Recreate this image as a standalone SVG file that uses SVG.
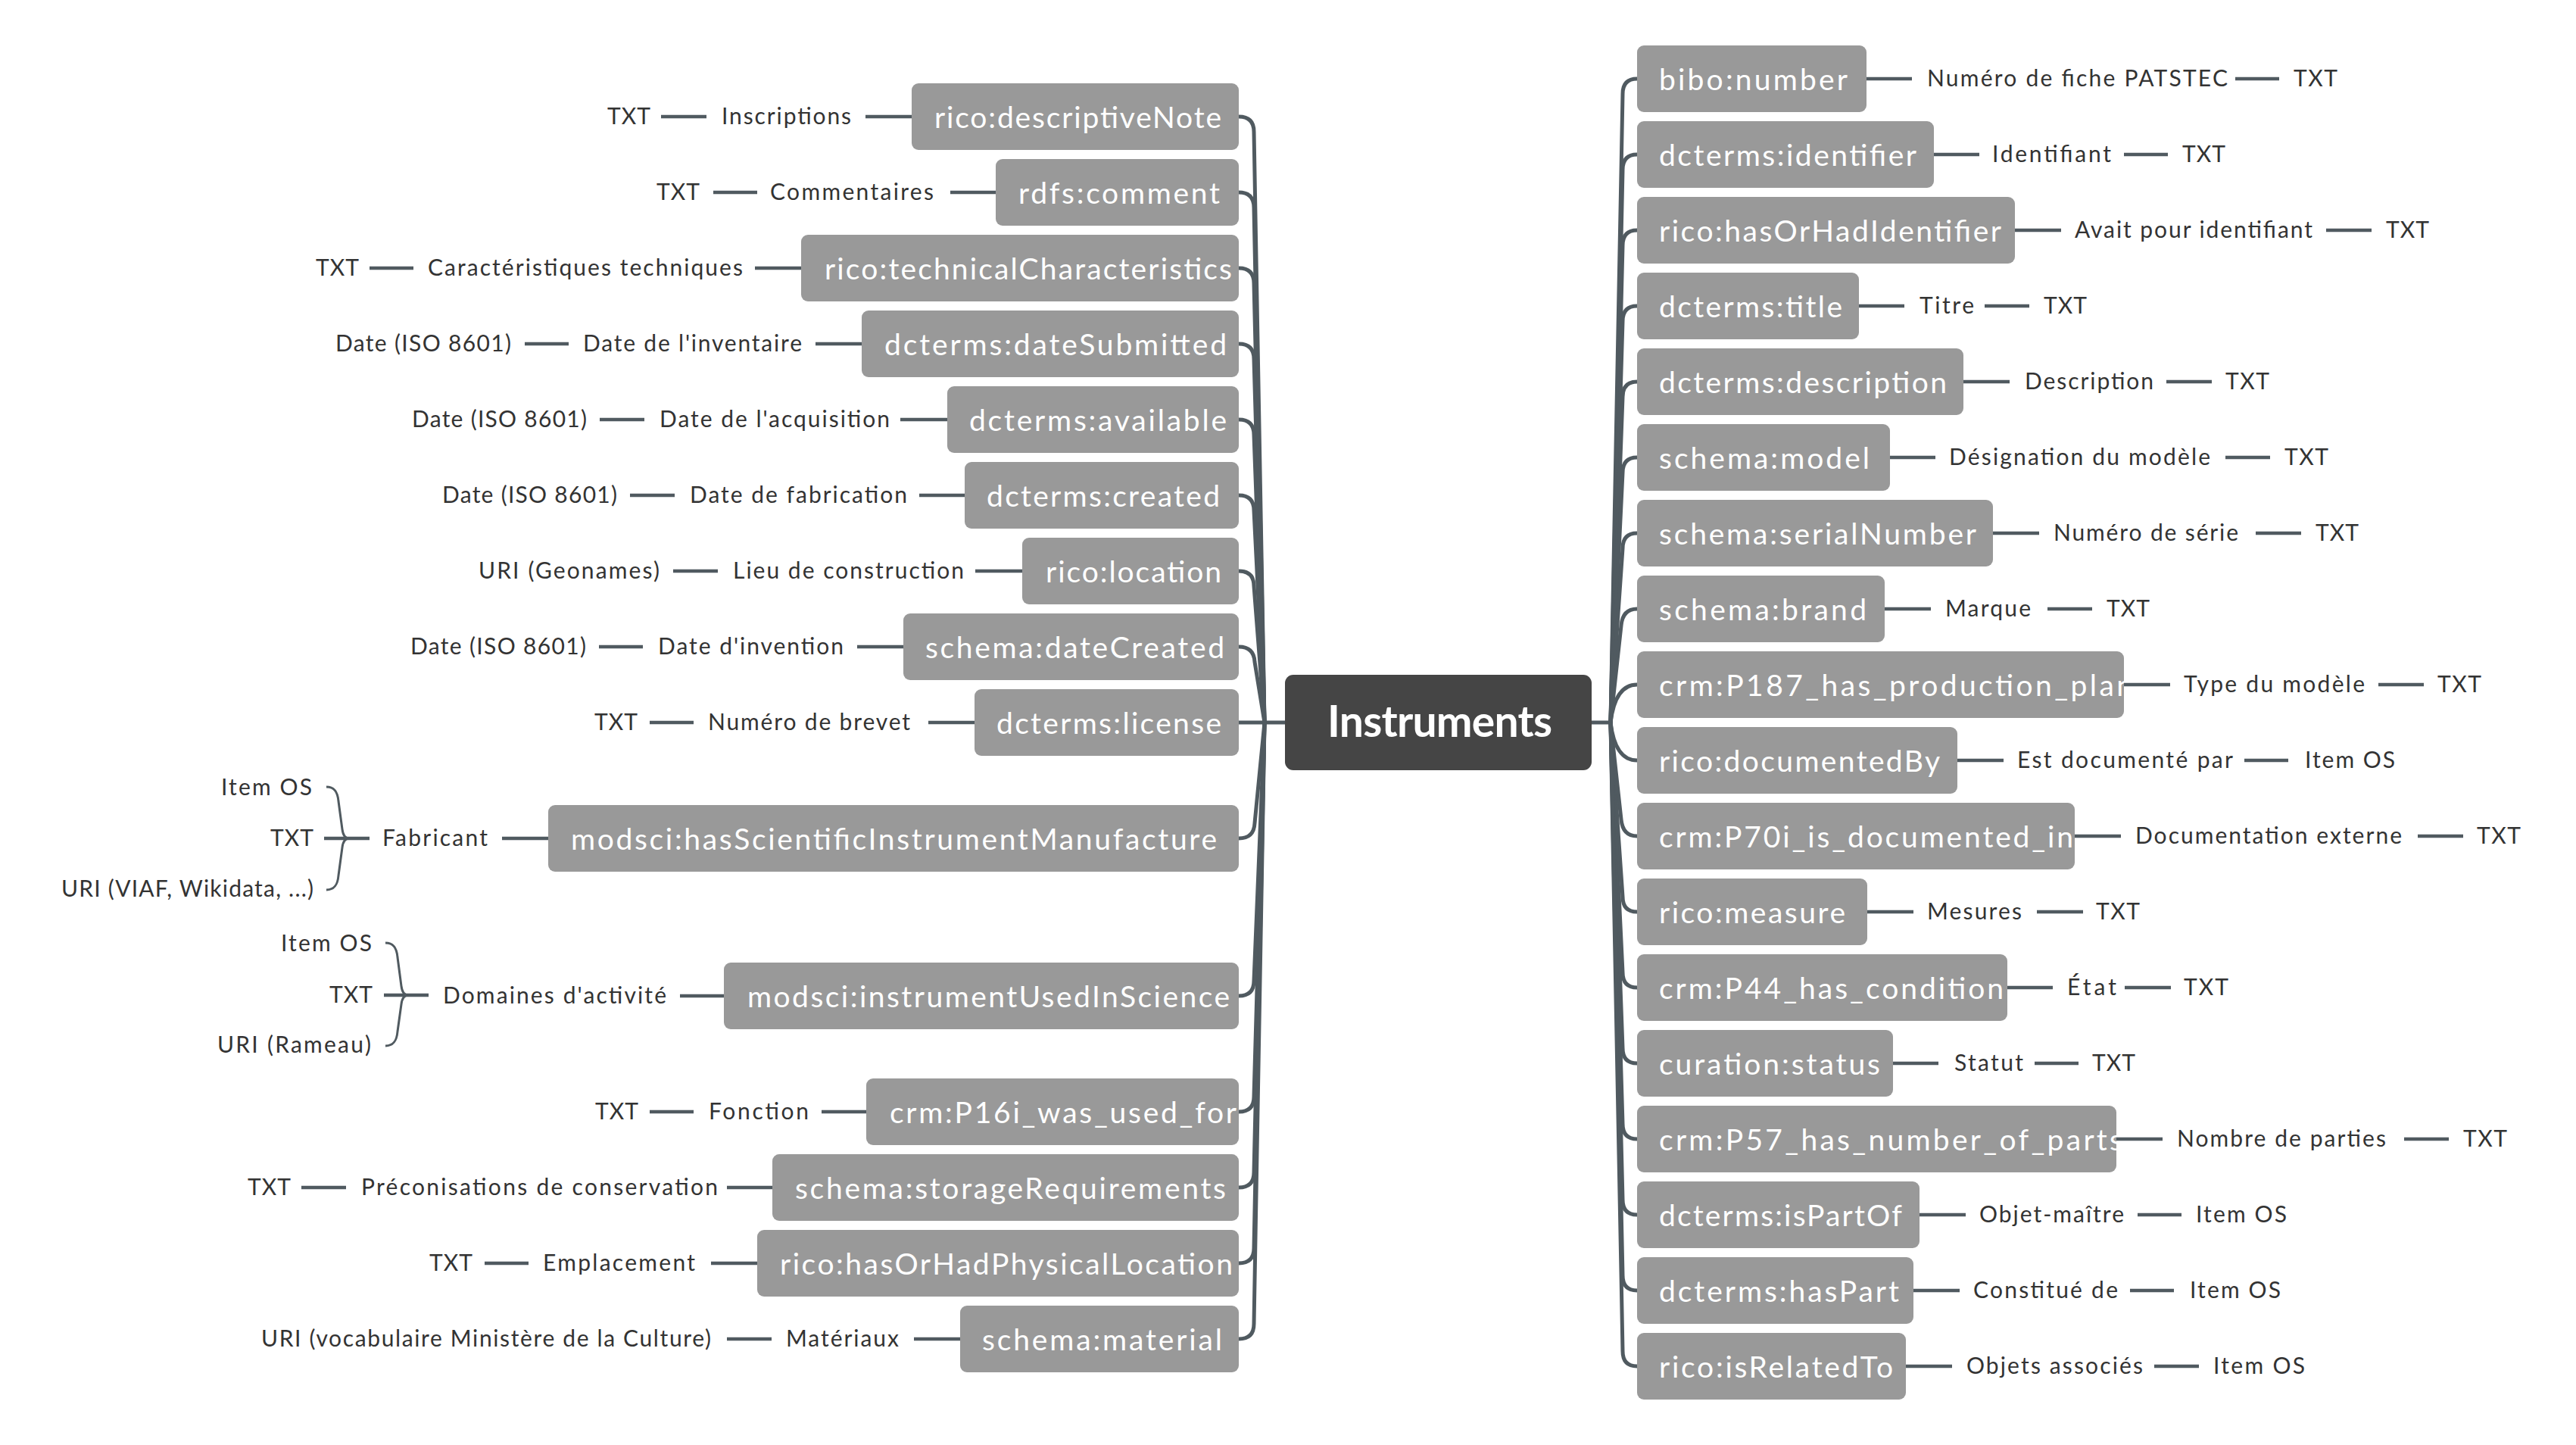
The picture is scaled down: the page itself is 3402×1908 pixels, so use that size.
<svg xmlns="http://www.w3.org/2000/svg" width="3402" height="1908" viewBox="0 0 3402 1908">
<style>
.n rect{fill:#999999}
.n text{fill:#ffffff;font-family:Lato,"Liberation Sans",sans-serif;font-size:39px}
.lb{fill:#333333;font-family:Lato,"Liberation Sans",sans-serif;font-size:30px}
#connectors path,#connectors line{fill:none;stroke:#505a60;stroke-linecap:butt}
.br{stroke-width:5}
.ln{stroke-width:4.5}
.bc{stroke-width:3}
</style>
<defs>
<clipPath id="c187"><rect x="2162" y="860" width="643" height="88" rx="9"/></clipPath>
<clipPath id="c70"><rect x="2162" y="1060" width="578" height="88" rx="9"/></clipPath>
<clipPath id="c57"><rect x="2162" y="1460" width="633" height="88" rx="9"/></clipPath>
<clipPath id="c16"><rect x="1144" y="1424" width="492" height="88" rx="9"/></clipPath>
</defs>
<rect width="3402" height="1908" fill="#ffffff"/>

<g id="connectors">
<line class="br" x1="1668" y1="954" x2="1699" y2="954"/>
<line class="br" x1="2100" y1="954" x2="2129" y2="954"/>
<!-- left branches -->
<path class="br" d="M1670 954 L1656 174 Q1656 154 1636 154"/>
<path class="br" d="M1670 954 L1656 274 Q1656 254 1636 254"/>
<path class="br" d="M1670 954 L1656 374 Q1656 354 1636 354"/>
<path class="br" d="M1670 954 L1656 474 Q1656 454 1636 454"/>
<path class="br" d="M1670 954 L1656 574 Q1656 554 1636 554"/>
<path class="br" d="M1670 954 L1656 674 Q1656 654 1636 654"/>
<path class="br" d="M1670 954 L1656 774 Q1656 754 1636 754"/>
<path class="br" d="M1670 954 L1657 874 Q1656 854 1636 854"/>
<path class="br" d="M1670 954 L1636 954"/>
<path class="br" d="M1670 954 L1657 1087 Q1656 1107 1636 1107"/>
<path class="br" d="M1670 954 L1656 1295 Q1656 1315 1636 1315"/>
<path class="br" d="M1670 954 L1656 1448 Q1656 1468 1636 1468"/>
<path class="br" d="M1670 954 L1656 1548 Q1656 1568 1636 1568"/>
<path class="br" d="M1670 954 L1656 1648 Q1656 1668 1636 1668"/>
<path class="br" d="M1670 954 L1656 1748 Q1656 1768 1636 1768"/>
<!-- right branches -->
<path class="br" d="M2127 954 L2143 124 Q2143 104 2162 104"/>
<path class="br" d="M2127 954 L2143 224 Q2143 204 2162 204"/>
<path class="br" d="M2127 954 L2143 324 Q2143 304 2162 304"/>
<path class="br" d="M2127 954 L2143 424 Q2143 404 2162 404"/>
<path class="br" d="M2127 954 L2143 524 Q2143 504 2162 504"/>
<path class="br" d="M2127 954 L2143 624 Q2143 604 2162 604"/>
<path class="br" d="M2127 954 L2143 724 Q2143 704 2162 704"/>
<path class="br" d="M2127 954 L2141 826 Q2143 804 2162 804"/>
<path class="br" d="M2127 954 Q2133 904 2162 904"/>
<path class="br" d="M2127 954 Q2133 1004 2162 1004"/>
<path class="br" d="M2127 954 L2141 1082 Q2143 1104 2162 1104"/>
<path class="br" d="M2127 954 L2143 1184 Q2143 1204 2162 1204"/>
<path class="br" d="M2127 954 L2143 1284 Q2143 1304 2162 1304"/>
<path class="br" d="M2127 954 L2143 1384 Q2143 1404 2162 1404"/>
<path class="br" d="M2127 954 L2143 1484 Q2143 1504 2162 1504"/>
<path class="br" d="M2127 954 L2143 1584 Q2143 1604 2162 1604"/>
<path class="br" d="M2127 954 L2143 1684 Q2143 1704 2162 1704"/>
<path class="br" d="M2127 954 L2143 1784 Q2143 1804 2162 1804"/>
<!-- left label lines -->
<line class="ln" x1="873" y1="154" x2="933" y2="154"/><line class="ln" x1="1143" y1="154" x2="1204" y2="154"/>
<line class="ln" x1="942" y1="254" x2="1000" y2="254"/><line class="ln" x1="1255" y1="254" x2="1315" y2="254"/>
<line class="ln" x1="488" y1="354" x2="546" y2="354"/><line class="ln" x1="997" y1="354" x2="1058" y2="354"/>
<line class="ln" x1="693" y1="454" x2="751" y2="454"/><line class="ln" x1="1077" y1="454" x2="1138" y2="454"/>
<line class="ln" x1="792" y1="554" x2="851" y2="554"/><line class="ln" x1="1189" y1="554" x2="1251" y2="554"/>
<line class="ln" x1="832" y1="654" x2="891" y2="654"/><line class="ln" x1="1214" y1="654" x2="1274" y2="654"/>
<line class="ln" x1="889" y1="754" x2="948" y2="754"/><line class="ln" x1="1288" y1="754" x2="1350" y2="754"/>
<line class="ln" x1="791" y1="854" x2="849" y2="854"/><line class="ln" x1="1132" y1="854" x2="1193" y2="854"/>
<line class="ln" x1="858" y1="954" x2="916" y2="954"/><line class="ln" x1="1226" y1="954" x2="1287" y2="954"/>
<line class="ln" x1="428" y1="1107" x2="488" y2="1107"/><line class="ln" x1="663" y1="1107" x2="724" y2="1107"/>
<path class="bc" d="M431 1039 C442 1039 446 1046 447 1058 L452 1095 C453 1103 456 1107 461 1107 C456 1107 453 1111 452 1119 L447 1156 C446 1168 442 1175 431 1175"/>
<line class="ln" x1="507" y1="1314" x2="566" y2="1314"/><line class="ln" x1="898" y1="1315" x2="956" y2="1315"/>
<path class="bc" d="M509 1245 C520 1245 524 1252 525 1264 L530 1302 C531 1310 534 1314 539 1314 C534 1314 531 1318 530 1326 L525 1362 C524 1374 520 1381 509 1381"/>
<line class="ln" x1="858" y1="1468" x2="916" y2="1468"/><line class="ln" x1="1085" y1="1468" x2="1144" y2="1468"/>
<line class="ln" x1="398" y1="1568" x2="457" y2="1568"/><line class="ln" x1="960" y1="1568" x2="1020" y2="1568"/>
<line class="ln" x1="640" y1="1668" x2="698" y2="1668"/><line class="ln" x1="939" y1="1668" x2="1000" y2="1668"/>
<line class="ln" x1="960" y1="1768" x2="1019" y2="1768"/><line class="ln" x1="1207" y1="1768" x2="1268" y2="1768"/>
<!-- right label lines -->
<line class="ln" x1="2465" y1="104" x2="2525" y2="104"/><line class="ln" x1="2952" y1="104" x2="3010" y2="104"/>
<line class="ln" x1="2554" y1="204" x2="2614" y2="204"/><line class="ln" x1="2805" y1="204" x2="2863" y2="204"/>
<line class="ln" x1="2661" y1="304" x2="2722" y2="304"/><line class="ln" x1="3072" y1="304" x2="3132" y2="304"/>
<line class="ln" x1="2455" y1="404" x2="2515" y2="404"/><line class="ln" x1="2621" y1="404" x2="2680" y2="404"/>
<line class="ln" x1="2593" y1="504" x2="2654" y2="504"/><line class="ln" x1="2861" y1="504" x2="2921" y2="504"/>
<line class="ln" x1="2496" y1="604" x2="2556" y2="604"/><line class="ln" x1="2939" y1="604" x2="2998" y2="604"/>
<line class="ln" x1="2632" y1="704" x2="2693" y2="704"/><line class="ln" x1="2979" y1="704" x2="3039" y2="704"/>
<line class="ln" x1="2489" y1="804" x2="2550" y2="804"/><line class="ln" x1="2704" y1="804" x2="2763" y2="804"/>
<line class="ln" x1="2805" y1="904" x2="2866" y2="904"/><line class="ln" x1="3141" y1="904" x2="3201" y2="904"/>
<line class="ln" x1="2585" y1="1004" x2="2646" y2="1004"/><line class="ln" x1="2964" y1="1004" x2="3022" y2="1004"/>
<line class="ln" x1="2740" y1="1104" x2="2801" y2="1104"/><line class="ln" x1="3193" y1="1104" x2="3253" y2="1104"/>
<line class="ln" x1="2466" y1="1204" x2="2527" y2="1204"/><line class="ln" x1="2690" y1="1204" x2="2751" y2="1204"/>
<line class="ln" x1="2651" y1="1304" x2="2711" y2="1304"/><line class="ln" x1="2806" y1="1304" x2="2867" y2="1304"/>
<line class="ln" x1="2500" y1="1404" x2="2560" y2="1404"/><line class="ln" x1="2687" y1="1404" x2="2745" y2="1404"/>
<line class="ln" x1="2795" y1="1504" x2="2856" y2="1504"/><line class="ln" x1="3175" y1="1504" x2="3234" y2="1504"/>
<line class="ln" x1="2535" y1="1604" x2="2596" y2="1604"/><line class="ln" x1="2823" y1="1604" x2="2881" y2="1604"/>
<line class="ln" x1="2527" y1="1704" x2="2588" y2="1704"/><line class="ln" x1="2813" y1="1704" x2="2871" y2="1704"/>
<line class="ln" x1="2517" y1="1804" x2="2578" y2="1804"/><line class="ln" x1="2845" y1="1804" x2="2904" y2="1804"/>
</g>

<g id="root">
<rect x="1697" y="891" width="405" height="126" rx="11" fill="#454545"/>
<text x="1753" y="973" textLength="297" fill="#ffffff" font-family="Lato,'Liberation Sans',sans-serif" font-size="57" font-weight="bold">Instruments</text>
</g>

<!-- left nodes -->
<g id="n-descriptiveNote" class="n"><rect x="1204" y="110" width="432" height="88" rx="9"/><text x="1234" y="169" textLength="379">rico:descriptiveNote</text></g>
<g id="n-comment" class="n"><rect x="1315" y="210" width="321" height="88" rx="9"/><text x="1345" y="269" textLength="266">rdfs:comment</text></g>
<g id="n-technicalCharacteristics" class="n"><rect x="1058" y="310" width="578" height="88" rx="9"/><text x="1089" y="369" textLength="538">rico:technicalCharacteristics</text></g>
<g id="n-dateSubmitted" class="n"><rect x="1138" y="410" width="498" height="88" rx="9"/><text x="1168" y="469" textLength="452">dcterms:dateSubmitted</text></g>
<g id="n-available" class="n"><rect x="1251" y="510" width="385" height="88" rx="9"/><text x="1280" y="569" textLength="340">dcterms:available</text></g>
<g id="n-created" class="n"><rect x="1274" y="610" width="362" height="88" rx="9"/><text x="1303" y="669" textLength="308">dcterms:created</text></g>
<g id="n-location" class="n"><rect x="1350" y="710" width="286" height="88" rx="9"/><text x="1381" y="769" textLength="232">rico:location</text></g>
<g id="n-dateCreated" class="n"><rect x="1193" y="810" width="443" height="88" rx="9"/><text x="1222" y="869" textLength="395">schema:dateCreated</text></g>
<g id="n-license" class="n"><rect x="1287" y="910" width="349" height="88" rx="9"/><text x="1316" y="969" textLength="297">dcterms:license</text></g>
<g id="n-manufacture" class="n"><rect x="724" y="1063" width="912" height="88" rx="9"/><text x="754" y="1122" textLength="853">modsci:hasScientificInstrumentManufacture</text></g>
<g id="n-usedInScience" class="n"><rect x="956" y="1271" width="680" height="88" rx="9"/><text x="987" y="1330" textLength="637">modsci:instrumentUsedInScience</text></g>
<g id="n-usedFor" class="n"><rect x="1144" y="1424" width="492" height="88" rx="9"/><text x="1175" y="1483" textLength="458" clip-path="url(#c16)">crm:P16i_was_used_for</text></g>
<g id="n-storage" class="n"><rect x="1020" y="1524" width="616" height="88" rx="9"/><text x="1050" y="1583" textLength="569">schema:storageRequirements</text></g>
<g id="n-physLocation" class="n"><rect x="1000" y="1624" width="636" height="88" rx="9"/><text x="1030" y="1683" textLength="598">rico:hasOrHadPhysicalLocation</text></g>
<g id="n-material" class="n"><rect x="1268" y="1724" width="368" height="88" rx="9"/><text x="1297" y="1783" textLength="317">schema:material</text></g>

<!-- right nodes -->
<g id="n-number" class="n"><rect x="2162" y="60" width="303" height="88" rx="9"/><text x="2191" y="119" textLength="249">bibo:number</text></g>
<g id="n-identifier" class="n"><rect x="2162" y="160" width="392" height="88" rx="9"/><text x="2191" y="219" textLength="340">dcterms:identifier</text></g>
<g id="n-hasIdentifier" class="n"><rect x="2162" y="260" width="499" height="88" rx="9"/><text x="2191" y="319" textLength="452">rico:hasOrHadIdentifier</text></g>
<g id="n-title" class="n"><rect x="2162" y="360" width="293" height="88" rx="9"/><text x="2191" y="419" textLength="242">dcterms:title</text></g>
<g id="n-description" class="n"><rect x="2162" y="460" width="431" height="88" rx="9"/><text x="2191" y="519" textLength="380">dcterms:description</text></g>
<g id="n-model" class="n"><rect x="2162" y="560" width="334" height="88" rx="9"/><text x="2191" y="619" textLength="278">schema:model</text></g>
<g id="n-serial" class="n"><rect x="2162" y="660" width="470" height="88" rx="9"/><text x="2191" y="719" textLength="419">schema:serialNumber</text></g>
<g id="n-brand" class="n"><rect x="2162" y="760" width="327" height="88" rx="9"/><text x="2191" y="819" textLength="274">schema:brand</text></g>
<g id="n-p187" class="n"><rect x="2162" y="860" width="643" height="88" rx="9"/><text x="2191" y="919" textLength="626" clip-path="url(#c187)">crm:P187_has_production_plan</text></g>
<g id="n-documentedBy" class="n"><rect x="2162" y="960" width="423" height="88" rx="9"/><text x="2191" y="1019" textLength="371">rico:documentedBy</text></g>
<g id="n-p70i" class="n"><rect x="2162" y="1060" width="578" height="88" rx="9"/><text x="2191" y="1119" textLength="547" clip-path="url(#c70)">crm:P70i_is_documented_in</text></g>
<g id="n-measure" class="n"><rect x="2162" y="1160" width="304" height="88" rx="9"/><text x="2191" y="1219" textLength="246">rico:measure</text></g>
<g id="n-p44" class="n"><rect x="2162" y="1260" width="489" height="88" rx="9"/><text x="2191" y="1319" textLength="455">crm:P44_has_condition</text></g>
<g id="n-status" class="n"><rect x="2162" y="1360" width="338" height="88" rx="9"/><text x="2191" y="1419" textLength="292">curation:status</text></g>
<g id="n-p57" class="n"><rect x="2162" y="1460" width="633" height="88" rx="9"/><text x="2191" y="1519" textLength="612" clip-path="url(#c57)">crm:P57_has_number_of_parts</text></g>
<g id="n-isPartOf" class="n"><rect x="2162" y="1560" width="373" height="88" rx="9"/><text x="2191" y="1619" textLength="321">dcterms:isPartOf</text></g>
<g id="n-hasPart" class="n"><rect x="2162" y="1660" width="365" height="88" rx="9"/><text x="2191" y="1719" textLength="317">dcterms:hasPart</text></g>
<g id="n-isRelatedTo" class="n"><rect x="2162" y="1760" width="355" height="88" rx="9"/><text x="2191" y="1819" textLength="309">rico:isRelatedTo</text></g>

<!-- left labels -->
<g id="labels-left" class="lb">
<text x="802" y="164" textLength="57">TXT</text><text x="953" y="164" textLength="171">Inscriptions</text>
<text x="867" y="264" textLength="57">TXT</text><text x="1017" y="264" textLength="216">Commentaires</text>
<text x="417" y="364" textLength="57">TXT</text><text x="565" y="364" textLength="416">Caractéristiques techniques</text>
<text x="443" y="464" textLength="232">Date (ISO 8601)</text><text x="770" y="464" textLength="289">Date de l'inventaire</text>
<text x="544" y="564" textLength="231">Date (ISO 8601)</text><text x="871" y="564" textLength="304">Date de l'acquisition</text>
<text x="584" y="664" textLength="231">Date (ISO 8601)</text><text x="911" y="664" textLength="287">Date de fabrication</text>
<text x="632" y="764" textLength="239">URI (Geonames)</text><text x="968" y="764" textLength="305">Lieu de construction</text>
<text x="542" y="864" textLength="232">Date (ISO 8601)</text><text x="869" y="864" textLength="245">Date d'invention</text>
<text x="785" y="964" textLength="57">TXT</text><text x="935" y="964" textLength="267">Numéro de brevet</text>
<text x="505" y="1117" textLength="139">Fabricant</text>
<text x="292" y="1050" textLength="120">Item OS</text>
<text x="357" y="1117" textLength="57">TXT</text>
<text x="81" y="1184" textLength="333">URI (VIAF, Wikidata, ...)</text>
<text x="585" y="1325" textLength="295">Domaines d'activité</text>
<text x="371" y="1256" textLength="120">Item OS</text>
<text x="435" y="1324" textLength="57">TXT</text>
<text x="287" y="1390" textLength="203">URI (Rameau)</text>
<text x="786" y="1478" textLength="57">TXT</text><text x="936" y="1478" textLength="132">Fonction</text>
<text x="327" y="1578" textLength="57">TXT</text><text x="477" y="1578" textLength="471">Préconisations de conservation</text>
<text x="567" y="1678" textLength="57">TXT</text><text x="717" y="1678" textLength="201">Emplacement</text>
<text x="345" y="1778" textLength="594">URI (vocabulaire Ministère de la Culture)</text><text x="1038" y="1778" textLength="149">Matériaux</text>
</g>

<!-- right labels -->
<g id="labels-right" class="lb">
<text x="2545" y="114" textLength="397">Numéro de fiche PATSTEC</text><text x="3029" y="114" textLength="58">TXT</text>
<text x="2631" y="214" textLength="157">Identifiant</text><text x="2882" y="214" textLength="57">TXT</text>
<text x="2740" y="314" textLength="314">Avait pour identifiant</text><text x="3151" y="314" textLength="57">TXT</text>
<text x="2535" y="414" textLength="72">Titre</text><text x="2699" y="414" textLength="57">TXT</text>
<text x="2674" y="514" textLength="170">Description</text><text x="2939" y="514" textLength="58">TXT</text>
<text x="2574" y="614" textLength="345">Désignation du modèle</text><text x="3017" y="614" textLength="58">TXT</text>
<text x="2712" y="714" textLength="244">Numéro de série</text><text x="3058" y="714" textLength="57">TXT</text>
<text x="2569" y="814" textLength="113">Marque</text><text x="2782" y="814" textLength="57">TXT</text>
<text x="2884" y="914" textLength="239">Type du modèle</text><text x="3219" y="914" textLength="58">TXT</text>
<text x="2664" y="1014" textLength="285">Est documenté par</text><text x="3044" y="1014" textLength="119">Item OS</text>
<text x="2820" y="1114" textLength="352">Documentation externe</text><text x="3271" y="1114" textLength="58">TXT</text>
<text x="2545" y="1214" textLength="125">Mesures</text><text x="2768" y="1214" textLength="58">TXT</text>
<text x="2730" y="1314" textLength="65">État</text><text x="2884" y="1314" textLength="59">TXT</text>
<text x="2581" y="1414" textLength="91">Statut</text><text x="2763" y="1414" textLength="57">TXT</text>
<text x="2875" y="1514" textLength="276">Nombre de parties</text><text x="3253" y="1514" textLength="58">TXT</text>
<text x="2614" y="1614" textLength="191">Objet-maître</text><text x="2900" y="1614" textLength="120">Item OS</text>
<text x="2606" y="1714" textLength="191">Constitué de</text><text x="2892" y="1714" textLength="120">Item OS</text>
<text x="2597" y="1814" textLength="233">Objets associés</text><text x="2923" y="1814" textLength="121">Item OS</text>
</g>
</svg>
